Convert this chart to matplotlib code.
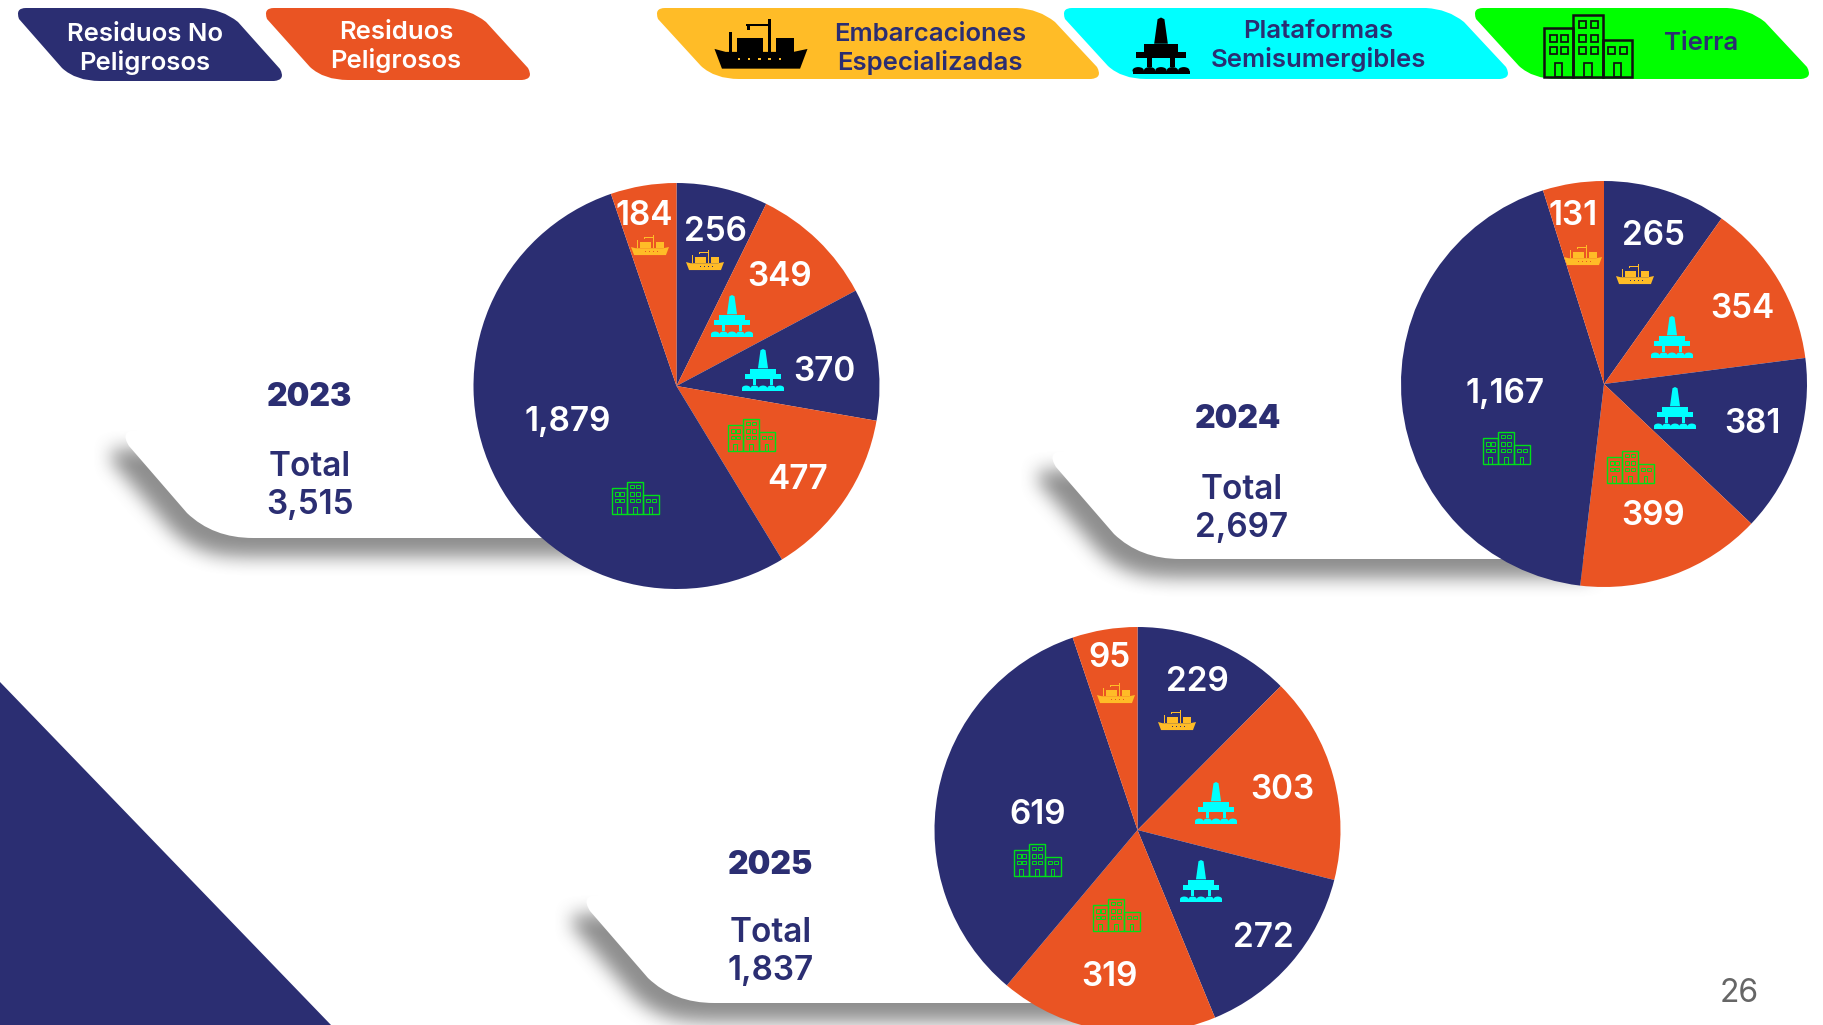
import numpy as np
import matplotlib
matplotlib.use('Agg')
import matplotlib.pyplot as plt
from matplotlib.path import Path
from matplotlib.patches import PathPatch, Polygon, Rectangle, Ellipse

plt.rcParams['font.family'] = ['Inter', 'DejaVu Sans']

W, H = 1823, 1025
NAVY = '#2B2E72'
ORANGE = '#EA5423'
YELLOW = '#FFBC27'
CYAN = '#00FFFF'
GREEN = '#00FF00'
SMALL_GREEN = '#00E018'
slice_colors = [NAVY, ORANGE, NAVY, ORANGE, NAVY, ORANGE]

# data, clockwise from the top of each pie
years = ['2023', '2024', '2025']
values_2023 = [256, 349, 370, 477, 1879, 184]
values_2024 = [265, 354, 381, 399, 1167, 131]
values_2025 = [229, 303, 272, 319, 619, 95]
totals = [3515, 2697, 1837]
slice_icons = ['ship', 'platform', 'platform', 'building', 'building', 'ship']

legend_waste = ['Residuos No\nPeligrosos', 'Residuos\nPeligrosos']
legend_source = ['Embarcaciones\nEspecializadas', 'Plataformas\nSemisumergibles', 'Tierra']
page_number = '26'

# layout, in pixels of the slide
pie_centers = [(676.5, 386), (1604, 384), (1137.5, 830)]
pie_radius = 203
label_xy = [
    [(715, 232), (780, 277), (824, 372), (798, 480), (568, 422), (644, 216)],
    [(1653, 236), (1742, 309), (1752, 424), (1653, 516), (1505, 394), (1573, 216)],
    [(1197, 682), (1282, 790), (1263, 938), (1109, 977), (1038, 815), (1109, 658)],
]
icon_xy = [
    [(705, 260), (732, 316), (763, 370), (751, 435), (635, 498), (650, 245)],
    [(1635, 274), (1672, 337), (1675, 408), (1630, 467), (1506, 448), (1583, 255)],
    [(1177, 720), (1216, 803), (1201, 881), (1116, 915), (1037, 860), (1116, 693)],
]
card_xy = [(125, 430), (1052, 451), (586, 895)]
year_xy = [(310, 398), (1238, 420), (771, 866)]
total_xy = [(310, 486), (1242, 509), (771, 952)]


def pill_path(x0, x1, y0, y1, slant):
    # parallelogram, big round corners top right and bottom left
    verts = [
        (x0 + 8, y0),
        (x1 - slant - 30, y0),
        (x1 - slant - 8, y0 + 1), (x1 - slant + 8, y0 + 14),
        (x1 - 2, y1 - 12),
        (x1 + 4, y1 - 1), (x1 - 8, y1),
        (x0 + slant + 30, y1),
        (x0 + slant + 6, y1), (x0 + slant - 8, y1 - 13),
        (x0 + 1, y0 + 11),
        (x0 - 3, y0), (x0 + 8, y0),
        (x0 + 8, y0),
    ]
    codes = [Path.MOVETO, Path.LINETO, Path.CURVE3, Path.CURVE3, Path.LINETO,
             Path.CURVE3, Path.CURVE3, Path.LINETO, Path.CURVE3, Path.CURVE3,
             Path.LINETO, Path.CURVE3, Path.CURVE3, Path.CLOSEPOLY]
    return Path(verts, codes)


def card_path(x, y, right):
    verts = [
        (x + 12, y),
        (right, y),
        (right, y + 108),
        (x + 128, y + 108),
        (x + 88, y + 108), (x + 62, y + 83),
        (x + 4, y + 16),
        (x - 6, y), (x + 12, y),
        (x + 12, y),
    ]
    codes = [Path.MOVETO, Path.LINETO, Path.LINETO, Path.LINETO, Path.CURVE3, Path.CURVE3,
             Path.LINETO, Path.CURVE3, Path.CURVE3, Path.CLOSEPOLY]
    return Path(verts, codes)


def draw_shadow(ax, path, dx=-15, dy=18, blur=20):
    box = path.get_extents()
    pad = blur * 2
    x0, x1 = int(box.x0 + dx - pad), int(box.x1 + dx + pad)
    y0, y1 = int(box.y0 + dy - pad), int(box.y1 + dy + pad)
    xs, ys = np.meshgrid(np.arange(x0, x1), np.arange(y0, y1))
    pts = np.column_stack([xs.ravel() - dx, ys.ravel() - dy])
    mask = path.contains_points(pts).reshape(xs.shape).astype(float)
    kernel = np.ones(blur + 1) / (blur + 1)
    for _ in range(2):
        mask = np.apply_along_axis(lambda r: np.convolve(r, kernel, mode='same'), 1, mask)
        mask = np.apply_along_axis(lambda c: np.convolve(c, kernel, mode='same'), 0, mask)
    rgba = np.zeros(mask.shape + (4,))
    rgba[..., :3] = 0.45
    rgba[..., 3] = mask * 0.8
    ax.imshow(rgba, extent=(x0, x1, y1, y0), zorder=0.3, interpolation='bilinear')


def draw_ship(ax, cx, cy, w, color, bg):
    h = w * 0.53
    def P(u, v):
        return (cx + (u - 0.5) * w, cy + (v - 0.5) * h)
    hull = [(0, .6), (.12, .66), (.85, .66), (1, .6), (.92, 1), (.08, 1)]
    ax.add_patch(Polygon([P(*p) for p in hull], fc=color, ec='none', zorder=4))
    for u0, u1, v0, v1 in [(.24, .52, .37, .66), (.66, .86, .37, .66), (.57, .61, 0, .66),
                           (.34, .6, .09, .14), (.35, .38, .1, .22), (.16, .19, .26, .66)]:
        ax.add_patch(Rectangle(P(u0, v0), (u1 - u0) * w, (v1 - v0) * h, fc=color, ec='none', zorder=4))
    for u in [.25, .36, .47, .58, .69]:
        ax.add_patch(Rectangle(P(u, .78), .025 * w, .05 * h, fc=bg, ec='none', zorder=5))


def draw_platform(ax, cx, cy, w, color):
    h = w
    def P(u, v):
        return (cx + (u - 0.5) * w, cy + (v - 0.5) * h)
    tower = [(.44, .03), (.5, 0), (.56, .03), (.62, .46), (.38, .46)]
    ax.add_patch(Polygon([P(*p) for p in tower], fc=color, ec='none', zorder=4))
    for u0, u1, v0, v1 in [(.2, .8, .47, .6), (.07, .93, .6, .71), (.26, .34, .71, .86), (.66, .74, .71, .86),
                           (0, 1, .93, 1)]:
        ax.add_patch(Rectangle(P(u0, v0), (u1 - u0) * w, (v1 - v0) * h, fc=color, ec='none', zorder=4))
    for u in [.1, .3, .5, .7, .9]:
        ax.add_patch(Ellipse(P(u, .93), .2 * w, .12 * h, fc=color, ec='none', zorder=4))


def draw_building(ax, cx, cy, w, color, lw):
    h = w * 0.7
    def rect(u0, v0, u1, v1):
        ax.add_patch(Rectangle((cx + (u0 - .5) * w, cy + (v0 - .5) * h), (u1 - u0) * w, (v1 - v0) * h,
                               fc='none', ec=color, lw=lw, zorder=4))
    rect(0, .2, .33, 1)
    rect(.33, 0, .67, 1)
    rect(.67, .4, 1, 1)
    lw = lw * 0.7
    for v in [.32, .52]:
        for u in [.07, .19, .4, .53]:
            rect(u, v, u + .08, v + .11)
    for u in [.4, .53]:
        rect(u, .1, u + .08, .21)
    for u in [.73, .86]:
        rect(u, .52, u + .08, .63)
    for u in [.12, .46, .79]:
        rect(u, .78, u + .08, 1)


fig = plt.figure(figsize=(W / 100, H / 100), dpi=100)
ax = fig.add_axes([0, 0, 1, 1])

# background triangle
ax.add_patch(Polygon([(0, 682), (331, H), (0, H)], fc=NAVY, ec='none', zorder=2))

# legend pills
pills = [(18, 282, 8, 81, NAVY), (266, 530, 8, 80, ORANGE), (657, 1099, 8, 79, YELLOW),
         (1064, 1508, 8, 79, CYAN), (1475, 1809, 8, 79, GREEN)]
for x0, x1, y0, y1, c in pills:
    ax.add_patch(PathPatch(pill_path(x0, x1, y0, y1, 52), fc=c, ec='none', zorder=2))
for txt, x, y in zip(legend_waste, [145, 396], [49, 47]):
    ax.text(x, y, txt, color='white', fontsize=18.5, fontweight='semibold', ha='center', va='center',
            linespacing=1.2, zorder=5)
for txt, x, y in zip(legend_source, [930, 1318, 1701], [49, 46, 44]):
    ax.text(x, y, txt, color=NAVY, fontsize=18.5, fontweight='semibold', ha='center', va='center',
            linespacing=1.2, zorder=5)
draw_ship(ax, 761, 44, 93, 'black', YELLOW)
draw_platform(ax, 1161, 46, 57, 'black')
draw_building(ax, 1588, 46, 88, '#111111', 1.8)

# pies with their cards
all_values = [values_2023, values_2024, values_2025]
for i, values in enumerate(all_values):
    cx, cy = pie_centers[i]
    card = card_path(card_xy[i][0], card_xy[i][1], cx)
    draw_shadow(ax, card)
    ax.add_patch(PathPatch(card, fc='white', ec='none', zorder=0.5))
    # y axis is flipped, so this runs clockwise from 12 o'clock on screen
    ax.pie(values, colors=slice_colors, center=(cx, cy), radius=pie_radius,
           startangle=-90, counterclock=True, wedgeprops={'linewidth': 0})
    for j, v in enumerate(values):
        lx, ly = label_xy[i][j]
        ax.text(lx, ly, f'{v:,}', color='white', fontsize=24, fontweight='semibold',
                ha='center', va='center', zorder=5)
        ix, iy = icon_xy[i][j]
        if slice_icons[j] == 'ship':
            draw_ship(ax, ix, iy, 38, YELLOW, slice_colors[j])
        elif slice_icons[j] == 'platform':
            draw_platform(ax, ix, iy, 42, CYAN)
        else:
            draw_building(ax, ix, iy, 47, SMALL_GREEN, 1.0)
    ax.text(year_xy[i][0], year_xy[i][1], years[i], color=NAVY, fontsize=23, fontweight='black',
            ha='center', va='center', zorder=5)
    ax.text(total_xy[i][0], total_xy[i][1], f'Total\n{totals[i]:,}', color=NAVY, fontsize=24,
            fontweight='semibold', ha='center', va='center', linespacing=1.25, zorder=5)

ax.text(1739, 993, page_number, color='#666666', fontsize=23, ha='center', va='center', zorder=5)

ax.set_xlim(0, W)
ax.set_ylim(H, 0)
ax.set_aspect('equal')
ax.axis('off')
fig.savefig('out.png', dpi=100, facecolor='white')
